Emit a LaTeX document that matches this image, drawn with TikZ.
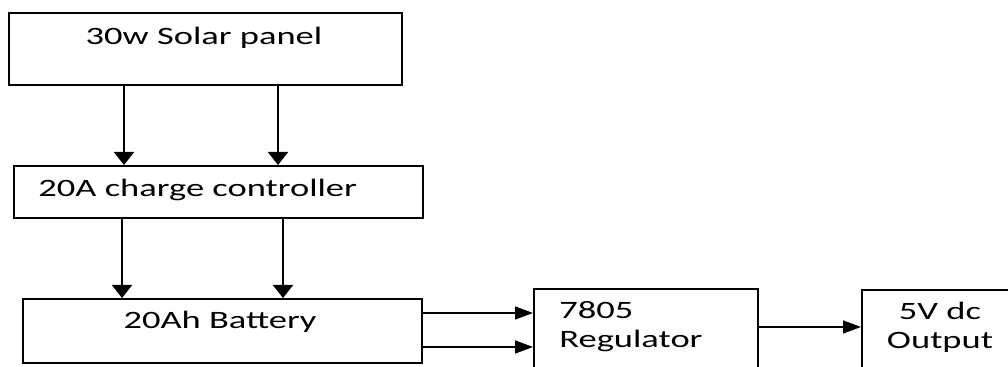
\documentclass[tikz,border=0pt]{standalone}
\usepackage{fontspec}
\setmainfont{Carlito}[FakeStretch=1.46]
\usetikzlibrary{arrows.meta}
\tikzset{
    block/.style = {rectangle, draw=black, line width=0.9pt, inner sep=0pt, anchor=north west},
    txt/.style = {inner sep=0pt, font=\fontsize{12.5}{14.5}\selectfont, align=left},
    down_arrow/.style = {-{Triangle[length=6.5pt, width=10pt]}, line width=1pt},
    right_arrow/.style = {-{Triangle[length=9pt, width=6.5pt]}, line width=0.8pt}
}

\begin{document}
\begin{tikzpicture}
    \useasboundingbox (0,0) rectangle (504pt,-183.5pt);
    \clip (0,0) rectangle (504pt,-183.5pt);

    % blocks
    \node[block, minimum width=196.5pt, minimum height=36pt] (solar) at (4pt,-6pt) {};
    \node[block, minimum width=204.5pt, minimum height=26pt] (ctrl) at (6.5pt,-82.5pt) {};
    \node[block, minimum width=199.5pt, minimum height=32pt] (bat) at (11pt,-149pt) {};
    \node[block, minimum width=112pt, minimum height=48pt] (reg) at (266.5pt,-144pt) {};
    \node[block, minimum width=90pt, minimum height=48pt] (out) at (430.5pt,-144.5pt) {};

    % texts
    \node[txt, anchor=base] (solar_t) at (102pt,-22.5pt) {30w Solar panel};
    \node[txt, anchor=base west] (ctrl_t) at (19pt,-98.5pt) {20A charge controller};
    \node[txt, anchor=base] (bat_t) at (110pt,-164.5pt) {20Ah Battery};
    \node[txt, anchor=base west] (reg_t) at (279.5pt,-174pt) {7805\\Regulator};
    \node[txt, anchor=base, align=center] (out_t) at (470pt,-174.5pt) {5V dc\\Output};

    % connections
    \draw[down_arrow] (solar.south west) ++(58pt,0) coordinate (s1) -- (s1 |- ctrl.north);
    \draw[down_arrow] (solar.south west) ++(135pt,0) coordinate (s2) -- (s2 |- ctrl.north);
    \draw[down_arrow] (ctrl.south west) ++(54.5pt,0) coordinate (c1) -- (c1 |- bat.north);
    \draw[down_arrow] (ctrl.south west) ++(135pt,0) coordinate (c2) -- (c2 |- bat.north);
    \draw[right_arrow] (bat.north east) ++(0,-7.5pt) coordinate (b1) -- (b1 -| reg.west);
    \draw[right_arrow] (bat.north east) ++(0,-24.5pt) coordinate (b2) -- (b2 -| reg.west);
    \draw[right_arrow] (reg.north east) ++(0,-19.5pt) coordinate (r1) -- (r1 -| out.west);
\end{tikzpicture}
\end{document}
